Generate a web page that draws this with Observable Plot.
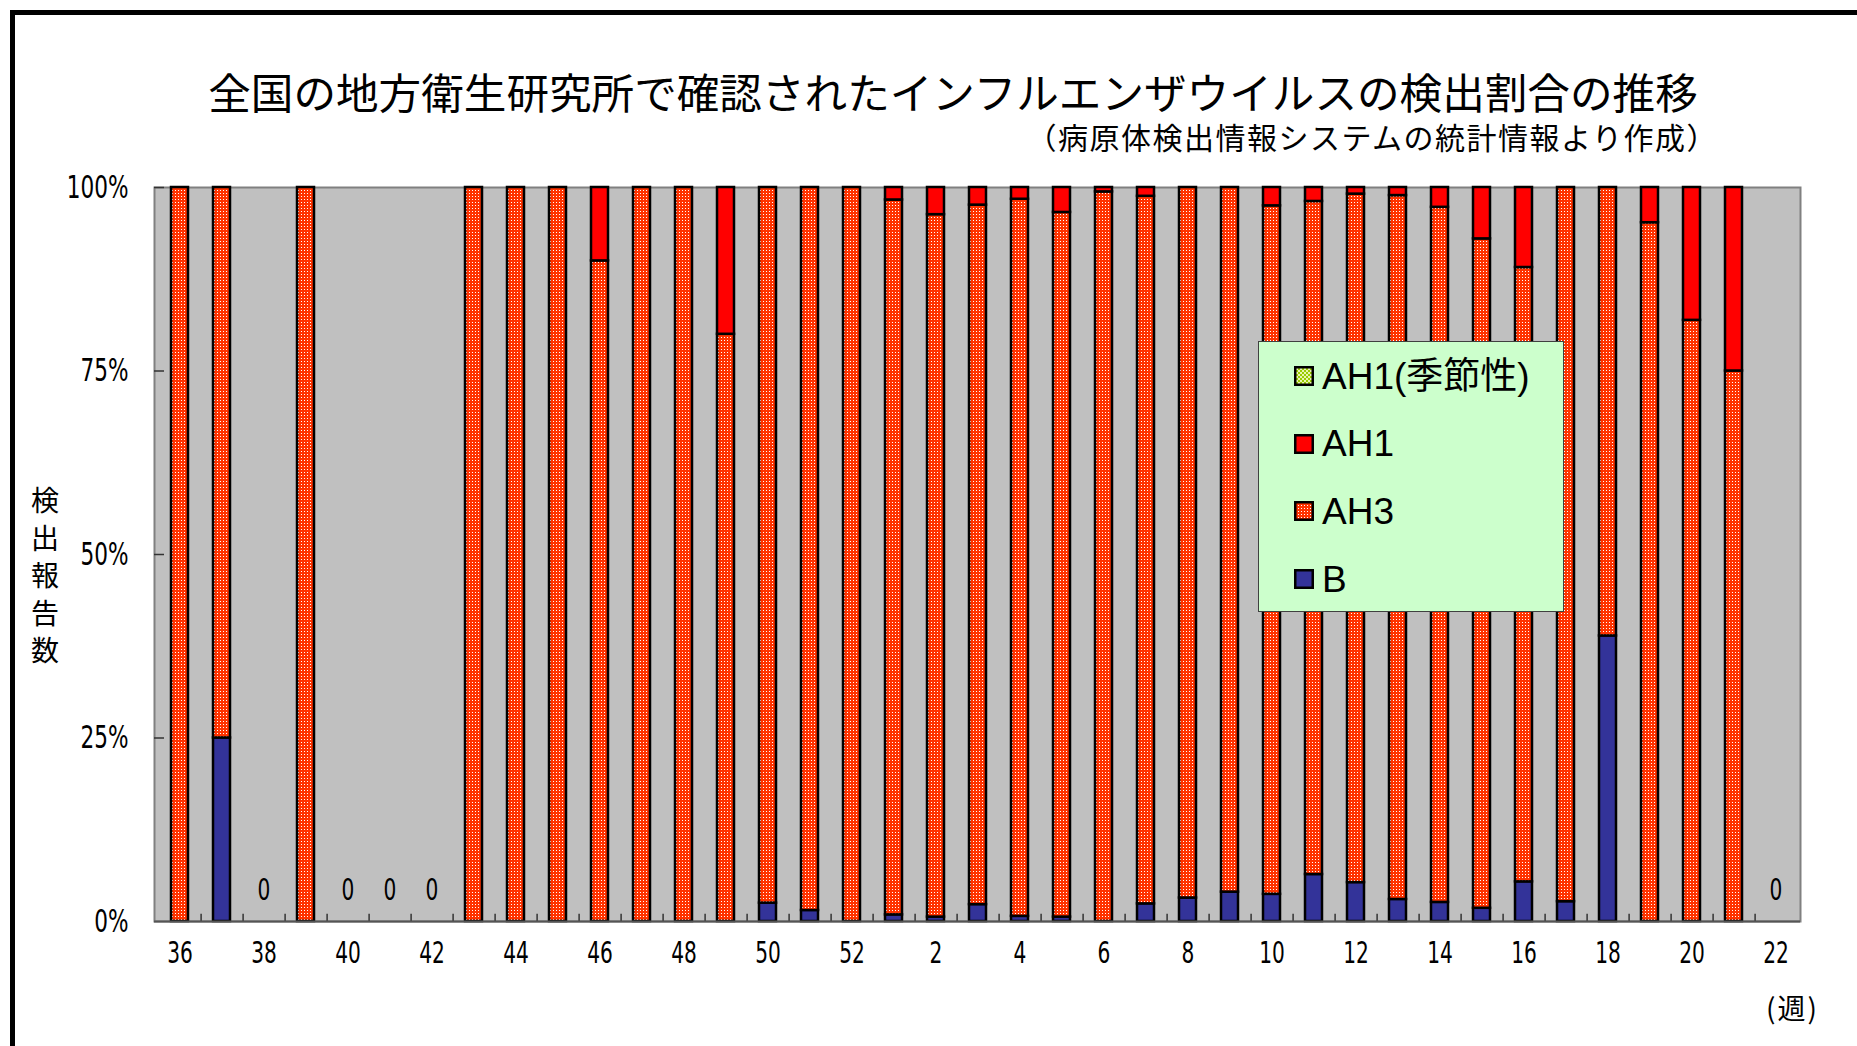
<!DOCTYPE html>
<html>
<head>
<meta charset="utf-8">
<script src="https://cdn.jsdelivr.net/npm/d3@7"></script>
<script src="https://cdn.jsdelivr.net/npm/@observablehq/plot@0.6"></script>
<style>
  html, body { margin: 0; padding: 0; background: #fff; overflow: hidden; }
  #page { position: relative; width: 1857px; height: 1046px; overflow: hidden; }
  #frame { position: absolute; left: 10px; top: 10px; width: 2000px; height: 1200px; border: 5px solid #000; box-sizing: border-box; }
  #title { position: absolute; left: 0; top: 70px; width: 1906px; text-align: center; font-family: "Noto Sans CJK JP", sans-serif; font-size: 42.6px; line-height: 1; color: #000; white-space: nowrap; }
  #subtitle { position: absolute; right: 139px; top: 121px; text-align: right; font-family: "Noto Sans CJK JP", sans-serif; font-size: 30px; letter-spacing: 1.5px; line-height: 1; color: #000; white-space: nowrap; }
  #chart { position: absolute; left: 0; top: 150px; }
  #ylabel { position: absolute; left: 31px; top: 481px; width: 28px; font-family: "Noto Sans CJK JP", sans-serif; font-size: 28px; line-height: 37.5px; text-align: center; color: #000; }
  #xunit { position: absolute; left: 1766px; top: 993px; font-family: "Noto Sans CJK JP", sans-serif; font-size: 28px; line-height: 1; color: #000; white-space: nowrap; letter-spacing: 2px; }
  #legend { position: absolute; left: 1258px; top: 341px; width: 306px; height: 271px; box-sizing: border-box; background: #ccffcc; border: 1.5px solid #404040; }
  .item { position: absolute; left: 0; height: 68px; display: flex; align-items: center; }
  .item svg { margin-left: 35px; margin-right: 8px; }
  .item span { font-family: "Liberation Sans", "Noto Sans CJK JP", sans-serif; font-size: 37px; line-height: 37px; color: #000; white-space: nowrap; }
</style>
</head>
<body>
<svg width="0" height="0" style="position:absolute">
  <defs>
    <pattern id="pAH3" width="3" height="3" patternUnits="userSpaceOnUse">
      <rect width="3" height="3" fill="#ff3300"></rect>
      <rect x="1" y="1" width="1" height="1" fill="#ffffff"></rect>
    </pattern>
    <pattern id="pAH1s" width="4" height="4" patternUnits="userSpaceOnUse">
      <rect width="4" height="4" fill="#99cc00"></rect>
      <rect x="0" y="0" width="2" height="2" fill="#e8f5b0"></rect>
      <rect x="2" y="2" width="2" height="2" fill="#e8f5b0"></rect>
    </pattern>
  </defs>
</svg>
<div id="page">
  <div id="frame"></div>
  <div id="title">全国の地方衛生研究所で確認されたインフルエンザウイルスの検出割合の推移</div>
  <div id="subtitle">（病原体検出情報システムの統計情報より作成）</div>
  <div id="chart"></div>
  <div id="ylabel"></div>
  <div id="xunit">(週)</div>
  <div id="legend"></div>
</div>
<script>
// ---- data (percent of detections per week) ----
const weeks = ["36","37","38","39","40","41","42","43","44","45","46","47","48","49","50","51","52",
  "1","2","3","4","5","6","7","8","9","10","11","12","13","14","15","16","17","18","19","20","21","22"];
const seriesNames = ["B", "AH3", "AH1", "AH1(季節性)"];
const valuesB = [0,25,0,0,0,0,0,0,0,0,0,0,0,0,2.5,1.5,0,
  0.9,0.6,2.3,0.7,0.6,0,2.4,3.2,4.0,3.7,6.4,5.3,3.0,2.6,1.8,5.4,2.7,38.9,0,0,0,0];
const valuesAH3 = [100,75,0,100,0,0,0,100,100,100,90,100,100,80,97.5,98.5,100,
  97.4,95.7,95.3,97.7,96.0,99.4,96.4,96.8,96.0,93.8,91.7,93.8,95.9,94.7,91.2,83.7,97.3,61.1,95.2,81.9,75,0];
const valuesAH1 = [0,0,0,0,0,0,0,0,0,0,10,0,0,20,0,0,0,
  1.7,3.7,2.4,1.6,3.4,0.6,1.2,0,0,2.5,1.9,0.9,1.1,2.7,7.0,10.9,0,0,4.8,18.1,25,0];
const valuesAH1s = [0,0,0,0,0,0,0,0,0,0,0,0,0,0,0,0,0,
  0,0,0,0,0,0,0,0,0,0,0,0,0,0,0,0,0,0,0,0,0,0];
const yTicks = [0, 25, 50, 75, 100];
const xTickLabels = ["36","38","40","42","44","46","48","50","52","2","4","6","8","10","12","14","16","18","20","22"];
const yTitle = "検出報告数";
const seriesFills = ["#333399", "url(#pAH3)", "#ff0000", "url(#pAH1s)"];
const legendOrder = ["AH1(季節性)", "AH1", "AH3", "B"];

// ---- build long table ----
const bySeries = {"B": valuesB, "AH3": valuesAH3, "AH1": valuesAH1, "AH1(季節性)": valuesAH1s};
const rows = [];
weeks.forEach((w, i) => {
  seriesNames.forEach(s => { const v = bySeries[s][i]; if (v > 0) rows.push({week: w, type: s, value: v}); });
});
const emptyWeeks = weeks.filter((w, i) => seriesNames.every(s => bySeries[s][i] === 0));

// ---- layout ----
const W = 1857, H = 896, mL = 154, mR = 57, mT = 37, mB = 125;
const plotW = W - mL - mR;
const step = plotW / weeks.length;
const numFont = "'Liberation Sans Narrow','DejaVu Sans Condensed','Liberation Sans',sans-serif";

const chart = Plot.plot({
  width: W, height: H,
  marginLeft: mL, marginRight: mR, marginTop: mT, marginBottom: mB,
  style: {fontFamily: numFont, fontSize: "28px", color: "#000", background: "transparent", overflow: "visible"},
  x: {domain: weeks, paddingInner: 0.6, paddingOuter: 0.3, label: null, ticks: xTickLabels, tickSize: 0, tickPadding: 21},
  y: {domain: [0, 100], ticks: yTicks, tickFormat: d => d + "%", label: null, tickSize: 0, tickPadding: 26},
  color: {domain: seriesNames, range: seriesFills},
  marks: [
    Plot.frame({fill: "#c0c0c0", stroke: "#808080", strokeWidth: 2}),
    Plot.ruleY(yTicks.slice(1), {insetRight: plotW - 10, stroke: "#333", strokeWidth: 1.5}),
    Plot.ruleX(weeks.slice(0, -1), {x: d => d, y1: 0, y2: 1, dx: step / 2, stroke: "#333", strokeWidth: 1.5}),
    Plot.barY(rows, {x: "week", y: "value", fill: "type", order: seriesNames, stroke: "#000", strokeWidth: 2.5}),
    Plot.ruleY([0], {stroke: "#555", strokeWidth: 2}),
    Plot.text(emptyWeeks, {x: d => d, y: 0, text: d => "0", dy: -31, fontSize: 28, fill: "#000"})
  ]
});
document.getElementById("chart").appendChild(chart);

// narrow the numeric labels horizontally (the reference uses a condensed face)
chart.querySelectorAll("text").forEach(t => {
  const ax = parseFloat(t.getAttribute("x") || 0), ay = parseFloat(t.getAttribute("y") || 0);
  const tr = t.getAttribute("transform") || "";
  t.setAttribute("transform", `${tr} translate(${ax},${ay}) scale(0.8,1.05) translate(${-ax},${-ay})`);
});
chart.querySelectorAll('[aria-label="y-axis tick label"] text').forEach(t => t.setAttribute("font-size", "30"));

// ---- y title (stacked characters) ----
document.getElementById("ylabel").innerHTML = Array.from(yTitle).map(c => "<div>" + c + "</div>").join("");

// ---- legend ----
const legend = document.getElementById("legend");
legendOrder.forEach((name, i) => {
  const fill = seriesFills[seriesNames.indexOf(name)];
  const item = document.createElement("div");
  item.className = "item";
  item.style.top = (i * 67.7) + "px";
  item.innerHTML = `<svg width="20" height="20"><rect x="1.25" y="1.25" width="17.5" height="17.5" fill="${fill}" stroke="#000" stroke-width="2.5"></rect></svg><span>${name}</span>`;
  legend.appendChild(item);
});
</script>
</body>
</html>
